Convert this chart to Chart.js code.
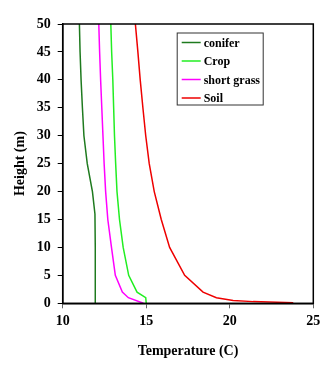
<!DOCTYPE html>
<html>
<head>
<meta charset="utf-8">
<script src="https://cdn.jsdelivr.net/npm/chart.js@4"></script>
<style>
html,body{margin:0;padding:0;background:#fff;}
#wrap{width:334px;height:374px;position:relative;}
</style>
</head>
<body>
<div id="wrap"><canvas id="c" width="334" height="374"></canvas></div>
<script>
const seriesNames = ["conifer", "Crop", "short grass", "Soil"];
const seriesColors = ["#1e7a1e", "#22ee22", "#ff00ff", "#ee0000"];

const coniferHeight = [0, 5, 10, 16, 20, 25, 30, 35, 40, 45, 50];
const coniferTemp   = [11.95, 11.95, 11.95, 11.93, 11.78, 11.47, 11.27, 11.18, 11.1, 11.04, 11.0];

const cropHeight = [0, 1, 2, 5, 10, 15, 20, 25, 30, 35, 40, 45, 50];
const cropTemp   = [15.0, 14.97, 14.45, 13.95, 13.62, 13.4, 13.25, 13.17, 13.1, 13.05, 13.0, 12.93, 12.88];

const grassHeight = [0, 1, 2, 5, 10, 15, 20, 25, 30, 35, 40, 45, 50];
const grassTemp   = [14.83, 13.93, 13.57, 13.15, 12.92, 12.7, 12.57, 12.48, 12.41, 12.34, 12.27, 12.21, 12.16];

const soilHeight = [0.1, 0.3, 0.5, 1, 2, 5, 10, 15, 20, 25, 30, 35, 40, 45, 50];
const soilTemp   = [23.8, 21.4, 20.2, 19.2, 18.4, 17.3, 16.4, 15.9, 15.48, 15.18, 14.97, 14.8, 14.64, 14.5, 14.35];

const xTicks = [10, 15, 20, 25];
const yTicks = [0, 5, 10, 15, 20, 25, 30, 35, 40, 45, 50];

const heights = [coniferHeight, cropHeight, grassHeight, soilHeight];
const temps = [coniferTemp, cropTemp, grassTemp, soilTemp];

const datasets = seriesNames.map((name, i) => ({
  label: name,
  data: temps[i].map((t, k) => ({x: t, y: heights[i][k]})),
  borderColor: seriesColors[i],
  backgroundColor: seriesColors[i],
  borderWidth: 1.5,
  pointRadius: 0,
  showLine: true,
  tension: 0,
  fill: false
}));

const frameAndLegend = {
  id: 'frameAndLegend',
  afterDatasetsDraw(chart) {
    const {ctx, chartArea: a} = chart;
    ctx.save();
    ctx.strokeStyle = '#000';
    ctx.lineWidth = 1.5;
    ctx.strokeRect(a.left, a.top, a.right - a.left, a.bottom - a.top);
    const bx = a.left + 114, by = a.top + 8.5, bw = 86, bh = 72;
    ctx.fillStyle = '#fff';
    ctx.fillRect(bx, by, bw, bh);
    ctx.lineWidth = 1;
    ctx.strokeStyle = '#333';
    ctx.strokeRect(bx + 0.5, by + 0.5, bw, bh);
    ctx.font = 'bold 12px "Liberation Serif", "Times New Roman", serif';
    ctx.textBaseline = 'middle';
    ctx.textAlign = 'left';
    chart.data.datasets.forEach((ds, i) => {
      const yy = by + 10 + i * 18.5;
      ctx.strokeStyle = ds.borderColor;
      ctx.lineWidth = 1.5;
      ctx.beginPath();
      ctx.moveTo(bx + 5, yy);
      ctx.lineTo(bx + 24, yy);
      ctx.stroke();
      ctx.fillStyle = '#000';
      ctx.fillText(ds.label, bx + 27, yy + 1);
    });
    ctx.restore();
  }
};

const tickFont = {family: '"Liberation Serif", "Times New Roman", serif', size: 14, weight: 'bold'};

new Chart(document.getElementById('c'), {
  type: 'scatter',
  data: {datasets},
  options: {
    responsive: false,
    animation: false,
    devicePixelRatio: 1,
    layout: {padding: {top: 24, right: 20.7, left: 0, bottom: 0}},
    plugins: {legend: {display: false}, tooltip: {enabled: false}},
    scales: {
      x: {
        type: 'linear',
        min: 10, max: 25,
        afterBuildTicks: s => { s.ticks = xTicks.map(v => ({value: v})); },
        afterFit: s => { s.height = 70.7; },
        ticks: {font: tickFont, color: '#000', padding: 5, maxRotation: 0},
        grid: {drawOnChartArea: false, drawTicks: true, tickLength: 5, color: '#666'},
        border: {display: true, color: '#000', width: 1.5},
        title: {display: true, text: 'Temperature (C)', font: tickFont, color: '#000', padding: {top: 0, bottom: 14}}
      },
      y: {
        type: 'linear',
        min: 0, max: 50,
        afterBuildTicks: s => { s.ticks = yTicks.map(v => ({value: v})); },
        afterFit: s => { s.width = 62.7; },
        ticks: {font: tickFont, color: '#000', padding: 7},
        grid: {drawOnChartArea: false, drawTicks: true, tickLength: 5, color: '#000'},
        border: {display: true, color: '#000', width: 1.5},
        title: {display: true, text: 'Height (m)', font: tickFont, color: '#000', padding: {top: 12, bottom: 0}}
      }
    }
  },
  plugins: [frameAndLegend]
});
</script>
</body>
</html>
